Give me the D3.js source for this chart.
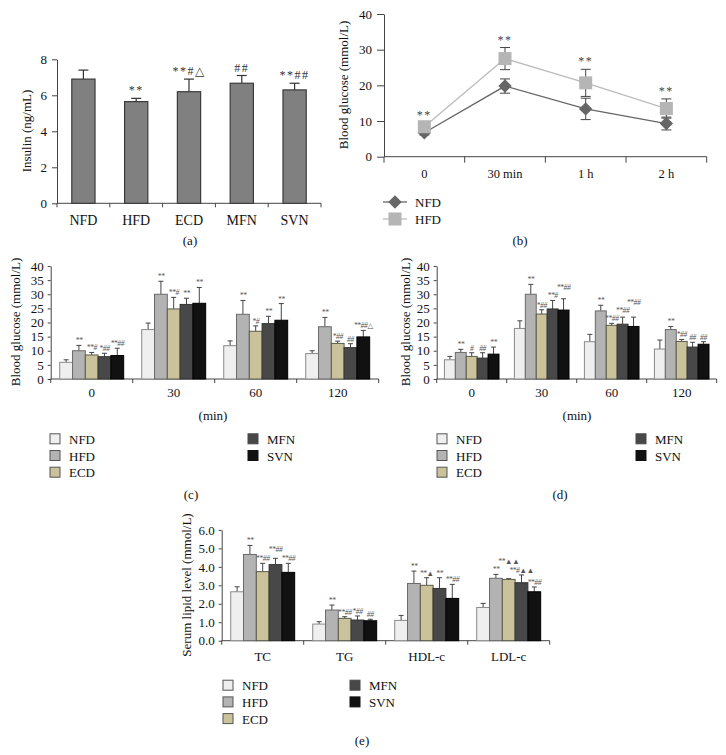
<!DOCTYPE html>
<html>
<head>
<meta charset="utf-8">
<script src="https://cdn.jsdelivr.net/npm/d3@7"></script>
<style>
body { margin: 0; background: #fff; }
svg { display: block; font-family: "Liberation Serif", "DejaVu Serif", serif; }
</style>
</head>
<body>
<svg id="fig" width="726" height="755"></svg>
<script>
// ---- data ----
var series = ["NFD", "HFD", "ECD", "MFN", "SVN"];

// (a) insulin
var insulin = [6.9, 5.65, 6.2, 6.67, 6.3];
var insulinErr = [0.5, 0.18, 0.7, 0.43, 0.37];
var insulinSig = ["", "**", "**#\u25b3", "##", "**##"];
var ticksA = [0, 2, 4, 6, 8];

// (b) glucose tolerance, NFD vs HFD
var timesB = ["0", "30 min", "1 h", "2 h"];
var nfdB = [6.7, 19.8, 13.4, 9.3];
var nfdBErr = [0.6, 2.0, 3.0, 1.8];
var hfdB = [8.4, 27.5, 20.7, 13.5];
var hfdBErr = [1.0, 3.1, 3.8, 2.7];
var sigB = ["**", "**", "**", "**"];
var ticksB = [0, 10, 20, 30, 40];

// (c) blood glucose, rows = series
var timesC = ["0", "30", "60", "120"];
var glucoseC = [
    [5.9, 17.5, 11.8, 9.0],
    [10.0, 30.0, 22.9, 18.5],
    [8.5, 24.8, 16.9, 12.6],
    [7.9, 26.4, 19.6, 11.1],
    [8.3, 26.8, 20.8, 14.9]
];
var glucoseCErr = [
    [0.9, 2.3, 1.7, 1.0],
    [1.9, 4.6, 4.9, 3.3],
    [0.9, 4.1, 1.9, 0.8],
    [1.2, 2.2, 2.6, 1.4],
    [2.6, 5.6, 5.9, 2.3]
];
var sigC = [
    ["", "", "", ""],
    ["**", "**", "**", "**"],
    ["**#", "**#", "*#", "*##"],
    ["*##", "**", "**", "##"],
    ["**##", "**", "**", "**##\u25b3"]
];

// (d) blood glucose
var glucoseD = [
    [6.8, 17.9, 13.2, 10.6],
    [9.4, 30.0, 24.1, 17.5],
    [8.0, 23.0, 19.0, 13.3],
    [7.4, 24.8, 19.4, 11.3],
    [8.8, 24.4, 18.6, 12.3]
];
var glucoseDErr = [
    [1.2, 2.7, 2.6, 3.2],
    [1.1, 3.5, 2.0, 1.1],
    [1.3, 1.5, 0.7, 0.7],
    [1.9, 3.0, 2.5, 1.7],
    [2.5, 4.0, 3.3, 0.9]
];
var sigD = [
    ["", "", "", ""],
    ["**", "**", "**", "**"],
    ["#", "*##", "**##", "*##"],
    ["##", "**#", "**##", "##"],
    ["**", "**##", "**##", "##"]
];
var ticksCD = [0, 5, 10, 15, 20, 25, 30, 35, 40];

// (e) serum lipids
var lipids = ["TC", "TG", "HDL-c", "LDL-c"];
var lipidE = [
    [2.65, 0.90, 1.10, 1.80],
    [4.67, 1.66, 3.10, 3.38],
    [3.74, 1.21, 3.00, 3.32],
    [4.12, 1.12, 2.83, 3.14],
    [3.70, 1.08, 2.29, 2.65]
];
var lipidEErr = [
    [0.27, 0.13, 0.27, 0.22],
    [0.49, 0.27, 0.67, 0.21],
    [0.45, 0.09, 0.41, 0.04],
    [0.34, 0.22, 0.58, 0.42],
    [0.49, 0.08, 0.76, 0.26]
];
var sigE = [
    ["", "", "", ""],
    ["**", "**", "**", "**"],
    ["**##", "**##", "**\u25b2", "**\u25b2\u25b2"],
    ["**##", "*##", "**", "**#\u25b2\u25b2"],
    ["**##", "##", "**##", "**##"]
];
var ticksE = [0, 1, 2, 3, 4, 5, 6];

var fills = ["#efefef", "#b3b3b3", "#c9c29b", "#484848", "#111111"];
var strokes = ["#8a8a8a", "#6a6a6a", "#5a5a4a", "#333333", "#000000"];
var axisColor = "#444";
var textColor = "#111";

var svg = d3.select("#fig");

function styleAxis(g, size) {
    g.attr("font-family", null).attr("font-size", null);
    g.select(".domain").attr("stroke", axisColor);
    g.selectAll(".tick line").attr("stroke", axisColor);
    g.selectAll(".tick text").attr("fill", textColor).style("font-size", size + "px");
}

// bottom line with ticks on band boundaries and labels at band centres
function bandXAxis(x, y0, tickLen, size, baseline) {
    var g = svg.append("g");
    var r = x.range();
    g.append("line").attr("x1", r[0]).attr("x2", r[1]).attr("y1", y0).attr("y2", y0)
        .attr("stroke", axisColor);
    d3.range(x.domain().length + 1).forEach(function(i) {
        var xx = r[0] + i * x.step();
        g.append("line").attr("x1", xx).attr("x2", xx).attr("y1", y0).attr("y2", y0 + tickLen)
            .attr("stroke", axisColor);
    });
    g.selectAll("text").data(x.domain()).join("text")
        .attr("x", function(d) { return x(d) + x.bandwidth() / 2; })
        .attr("y", baseline)
        .attr("text-anchor", "middle")
        .style("font-size", size + "px")
        .attr("fill", textColor)
        .text(function(d) { return d; });
}

function yLabel(text, cx, cy, size) {
    svg.append("text")
        .attr("transform", "translate(" + cx + "," + cy + ") rotate(-90)")
        .attr("text-anchor", "middle")
        .attr("dy", "0.35em")
        .style("font-size", size + "px")
        .attr("fill", textColor)
        .text(text);
}

function caption(text, cx, baseline, size) {
    svg.append("text").attr("x", cx).attr("y", baseline)
        .attr("text-anchor", "middle").style("font-size", size + "px")
        .attr("fill", textColor).text(text);
}

function legendBoxes(x0, x1, y0, dy) {
    var g = svg.append("g");
    series.forEach(function(s, i) {
        var col = i < 3 ? 0 : 1;
        var row = i < 3 ? i : i - 3;
        var lx = col ? x1 : x0;
        var ly = y0 + row * dy;
        g.append("rect").attr("x", lx).attr("y", ly - 5.5).attr("width", 10).attr("height", 10)
            .attr("fill", fills[i]).attr("stroke", i < 3 ? "#555" : fills[i]);
        g.append("text").attr("x", lx + 19).attr("y", ly + 4.5)
            .style("font-size", "13px").attr("fill", textColor).text(s);
    });
}

// ---- (a) ----
(function() {
    var x = d3.scaleBand().domain(series).range([57, 321]).paddingInner(0.56).paddingOuter(0.28);
    var y = d3.scaleLinear().domain([0, 8]).range([203.3, 59.3]);
    var ya = svg.append("g").attr("transform", "translate(57,0)")
        .call(d3.axisLeft(y).tickValues(ticksA).tickSize(5).tickSizeOuter(0).tickPadding(5));
    styleAxis(ya, 13);
    bandXAxis(x, 203.3, 4, 14, 225);
    var g = svg.append("g");
    series.forEach(function(s, i) {
        var cx = x(s) + x.bandwidth() / 2;
        var top = y(insulin[i] + insulinErr[i]);
        g.append("line").attr("x1", cx).attr("x2", cx).attr("y1", y(insulin[i])).attr("y2", top)
            .attr("stroke", "#333").attr("stroke-width", 1.2);
        g.append("line").attr("x1", cx - 5).attr("x2", cx + 5).attr("y1", top).attr("y2", top)
            .attr("stroke", "#333").attr("stroke-width", 1.2);
        g.append("rect").attr("x", x(s)).attr("y", y(insulin[i]))
            .attr("width", x.bandwidth()).attr("height", y(0) - y(insulin[i]))
            .attr("fill", "#808080").attr("stroke", "#3a3a3a").attr("stroke-width", 1.2);
        g.append("text").attr("x", cx).attr("y", top - 4).attr("text-anchor", "middle")
            .style("font-size", "12px").style("letter-spacing", "1.5px").attr("fill", "#333")
            .text(insulinSig[i]);
    });
    yLabel("Insulin (ng/mL)", 26, 131, 13);
    caption("(a)", 190, 245, 13);
})();

// ---- (b) ----
(function() {
    var x = d3.scaleBand().domain(timesB).range([384, 706.7]);
    var y = d3.scaleLinear().domain([0, 40]).range([156.7, 14]);
    var ya = svg.append("g").attr("transform", "translate(384,0)")
        .call(d3.axisLeft(y).tickValues(ticksB).tickSize(7).tickSizeOuter(0).tickPadding(5));
    styleAxis(ya, 13);
    bandXAxis(x, 156.7, 6, 12.5, 178);
    var cx = function(d) { return x(d) + x.bandwidth() / 2; };
    var sets = [
        { v: nfdB, e: nfdBErr, line: "#666", fill: "#666", sym: d3.symbolSquare, size: 90, rot: 45 },
        { v: hfdB, e: hfdBErr, line: "#bcbcbc", fill: "#b5b5b5", sym: d3.symbolSquare, size: 170, rot: 0 }
    ];
    var g = svg.append("g");
    sets.forEach(function(s) {
        g.append("path").datum(timesB)
            .attr("d", d3.line().x(cx).y(function(d, i) { return y(s.v[i]); }))
            .attr("fill", "none").attr("stroke", s.line).attr("stroke-width", 1.3);
    });
    sets.forEach(function(s) {
        timesB.forEach(function(t, i) {
            var xx = cx(t), lo = y(s.v[i] - s.e[i]), hi = y(s.v[i] + s.e[i]);
            g.append("line").attr("x1", xx).attr("x2", xx).attr("y1", lo).attr("y2", hi).attr("stroke", "#444");
            [lo, hi].forEach(function(yy) {
                g.append("line").attr("x1", xx - 5).attr("x2", xx + 5).attr("y1", yy).attr("y2", yy).attr("stroke", "#444");
            });
        });
    });
    sets.forEach(function(s) {
        timesB.forEach(function(t, i) {
            g.append("path").attr("d", d3.symbol(s.sym, s.size)())
                .attr("transform", "translate(" + cx(t) + "," + y(s.v[i]) + ") rotate(" + s.rot + ")")
                .attr("fill", s.fill);
        });
    });
    timesB.forEach(function(t, i) {
        g.append("text").attr("x", cx(t)).attr("y", y(hfdB[i] + hfdBErr[i]) - 4)
            .attr("text-anchor", "middle").style("font-size", "12px").style("letter-spacing", "1.5px")
            .attr("fill", "#444").text(sigB[i]);
    });
    // legend
    var lg = svg.append("g");
    [{ name: "NFD", s: sets[0], y: 202 }, { name: "HFD", s: sets[1], y: 219 }].forEach(function(l) {
        lg.append("line").attr("x1", 383).attr("x2", 407).attr("y1", l.y).attr("y2", l.y)
            .attr("stroke", l.s.line).attr("stroke-width", 1.3);
        lg.append("path").attr("d", d3.symbol(l.s.sym, l.s.size)())
            .attr("transform", "translate(395," + l.y + ") rotate(" + l.s.rot + ")").attr("fill", l.s.fill);
        lg.append("text").attr("x", 415).attr("y", l.y + 4.5).style("font-size", "13px")
            .attr("fill", textColor).text(l.name);
    });
    yLabel("Blood glucose (mmol/L)", 343, 85, 13);
    caption("(b)", 520, 245, 13);
})();

// ---- grouped bar panels (c), (d), (e) ----
function overlaps(a, b) {
    return a.x < b.x + b.width - 1 && b.x < a.x + a.width - 1 &&
        a.y < b.y + b.height - 1 && b.y < a.y + a.height - 1;
}

function groupedPanel(o) {
    var x = d3.scaleBand().domain(o.groups).range(o.xr).paddingInner(0.22).paddingOuter(0.11);
    var xs = d3.scaleBand().domain(series).range([0, x.bandwidth()]);
    var y = d3.scaleLinear().domain([0, o.ymax]).range(o.yr);
    var ya = svg.append("g").attr("transform", "translate(" + o.xr[0] + ",0)")
        .call(d3.axisLeft(y).tickValues(o.yticks).tickSize(3).tickSizeOuter(0).tickPadding(4)
            .tickFormat(o.fmt || null));
    styleAxis(ya, 13);
    bandXAxis(x, o.yr[0], 4, 13, o.xlabY);
    var g = svg.append("g");
    var labels = svg.append("g");
    o.groups.forEach(function(gr, gi) {
        var placed = [];
        series.forEach(function(s, si) {
            var v = o.values[si][gi], e = o.errs[si][gi];
            var bx = x(gr) + xs(s), bw = xs.bandwidth(), cx = bx + bw / 2;
            var top = y(v + e);
            g.append("line").attr("x1", cx).attr("x2", cx).attr("y1", y(v)).attr("y2", top)
                .attr("stroke", "#444");
            g.append("line").attr("x1", cx - 2.5).attr("x2", cx + 2.5).attr("y1", top).attr("y2", top)
                .attr("stroke", "#444");
            g.append("rect").attr("x", bx).attr("y", y(v)).attr("width", bw).attr("height", y(0) - y(v))
                .attr("fill", fills[si]).attr("stroke", strokes[si]).attr("stroke-width", 1);
            if (!o.sig[si][gi]) return;
            var t = labels.append("text").attr("x", cx).attr("y", top - 2).attr("text-anchor", "middle")
                .style("font-size", "7.5px").style("font-style", "italic").style("letter-spacing", "-0.3px")
                .attr("fill", "#555")
                .text(o.sig[si][gi]);
            // lift a label that would sit on top of its neighbour's
            var yy = top - 2, bb = t.node().getBBox(), k = 0;
            while (placed.some(function(p) { return overlaps(bb, p); }) && k < 20) {
                yy -= 1; k++;
                t.attr("y", yy);
                bb = t.node().getBBox();
            }
            placed.push(bb);
        });
    });
}

groupedPanel({
    groups: timesC, values: glucoseC, errs: glucoseCErr, sig: sigC,
    xr: [50.7, 378.7], yr: [379, 266], ymax: 40, yticks: ticksCD, xlabY: 397
});
yLabel("Blood glucose (mmol/L)", 15, 322, 13);
caption("(min)", 213, 420, 13);
legendBoxes(50, 248, 439.3, 16.7);
caption("(c)", 191, 499, 13);

groupedPanel({
    groups: timesC, values: glucoseD, errs: glucoseDErr, sig: sigD,
    xr: [436.7, 716.7], yr: [379, 266], ymax: 40, yticks: ticksCD, xlabY: 397
});
yLabel("Blood glucose (mmol/L)", 405, 322, 13);
caption("(min)", 577, 420, 13);
legendBoxes(437, 636, 439.3, 16.7);
caption("(d)", 560, 499, 13);

groupedPanel({
    groups: lipids, values: lipidE, errs: lipidEErr, sig: sigE,
    xr: [221.7, 549.7], yr: [640.7, 529.9], ymax: 6, yticks: ticksE, xlabY: 661,
    fmt: d3.format(".1f")
});
yLabel("Serum lipid level (mmol/L)", 186, 585, 13);
legendBoxes(223, 350, 685.7, 16.7);
caption("(e)", 362, 745, 13);
</script>
</body>
</html>
